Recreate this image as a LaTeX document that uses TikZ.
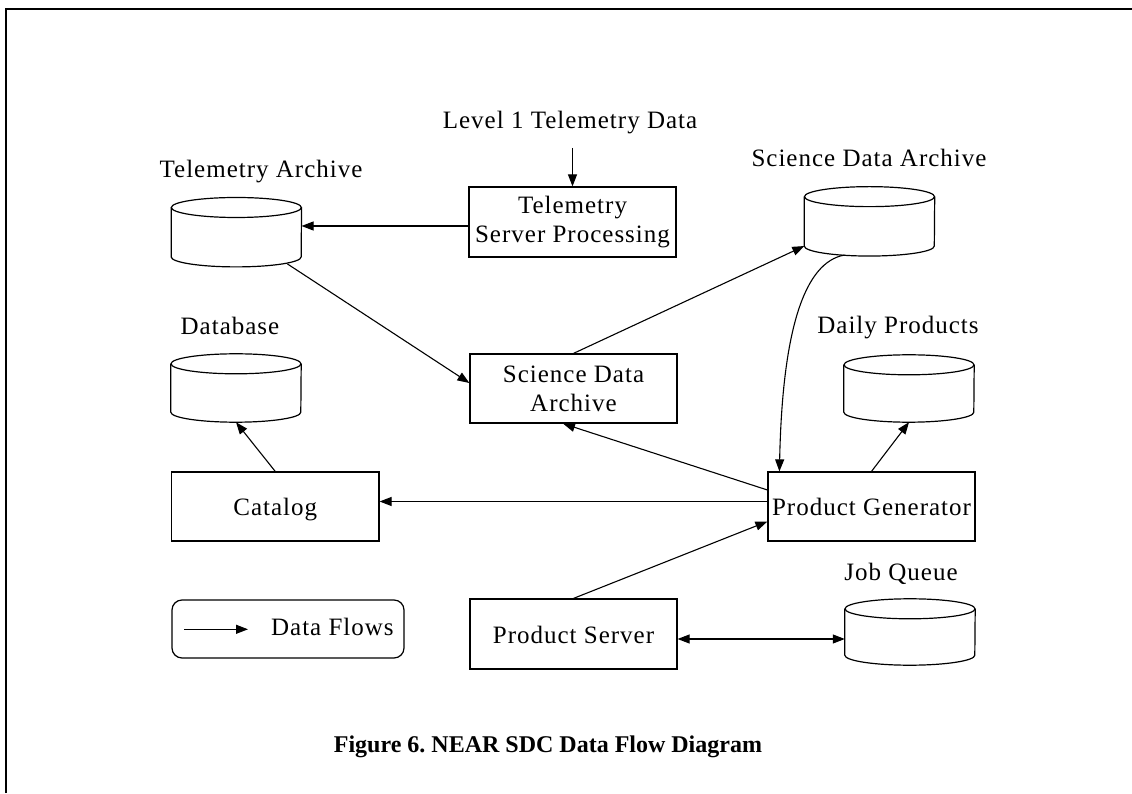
\documentclass[tikz,border=0pt]{standalone}
\usepackage{fontspec}
\setmainfont{Liberation Serif}
\newfontfamily\lblfont{Liberation Serif}[LetterSpace=4]
\usetikzlibrary{arrows.meta}
\frenchspacing

% outline of a storage drum drawn inside the bounding box of a named node
\newcommand\drumoutline[1]{%
  \draw[drum] ([yshift=-10pt]#1.north west) -- ([yshift=10pt]#1.south west)
    arc[start angle=180, end angle=360, x radius=65pt, y radius=10pt]
    -- ([yshift=-10pt]#1.north east);
  \draw[drum] ([yshift=-10pt]#1.north) ellipse [x radius=65pt, y radius=10pt];
}

\tikzset{
  tip/.tip={Triangle[length=12pt,width=9pt]},
  flow/.style={line width=1.1pt, -tip},
  twoway/.style={line width=1.1pt, tip-tip},
  procbox/.style={draw, line width=1.2pt, minimum width=207pt, minimum height=69pt,
    inner sep=0pt, align=center, font=\lblfont\fontsize{25}{30}\selectfont},
  oneline/.style={text height=18pt, text depth=0pt},
  drumbox/.style={minimum width=130pt, inner sep=0pt},
  drum/.style={line width=1.2pt},
  lbl/.style={anchor=base, inner sep=0pt, font=\lblfont\fontsize{25}{30}\selectfont},
}

\begin{document}
\begin{tikzpicture}[x=1pt,y=1pt]
  \fill[white] (0,0) rectangle (1132,793);
  \useasboundingbox (0,0) rectangle (1132,793);

  % page frame
  \draw[line width=1.6pt] (6,0) -- (6,784) -- (1132,784);

  % captions of the stores and the incoming data
  \node[lbl] (lvl)   at (570,664) {Level 1 Telemetry Data};
  \node[lbl] (talbl) at (261,615) {Telemetry Archive};
  \node[lbl] (sdlbl) at (869,626) {Science Data Archive};
  \node[lbl] (dblbl) at (230,458) {Database};
  \node[lbl] (dplbl) at (898,459) {Daily Products};
  \node[lbl] (jqlbl) at (901,213) {Job Queue};

  % processes
  \node[procbox, minimum height=70pt,
        font=\lblfont\fontsize{25}{31.5}\selectfont] (tsp) at (572.5,571)
        {\raisebox{-3pt}{Telemetry}\\Server Processing};
  \node[procbox, font=\lblfont\fontsize{25}{29}\selectfont] (sdb) at (573.5,404.5)
        {Science Data\\Archive};
  \node[procbox, oneline, minimum width=207.5pt] (cat) at (275.25,286.5) {Catalog};
  \node[procbox, oneline] (pg)  at (871.5,286.5) {Product Generator};
  \node[procbox, oneline, minimum height=70pt] (ps) at (573.5,159) {Product Server};

  % data stores
  \node[drumbox, minimum height=69pt] (ta)  at (236.35,560.8) {};
  \node[drumbox, minimum height=68pt] (db)  at (236,405) {};
  \node[drumbox, minimum height=69pt] (sdc) at (869.5,571.65) {};
  \node[drumbox, minimum height=67pt] (dp)  at (909,404.5) {};
  \node[drumbox, minimum height=66pt] (jq)  at (910,161) {};
  \drumoutline{ta}
  \drumoutline{db}
  \drumoutline{sdc}
  \drumoutline{dp}
  \drumoutline{jq}

  % data flows
  \draw[flow] ([yshift=-19pt]lvl.base -| tsp.north) -- (tsp.north);
  \draw[flow] ([yshift=-4pt]tsp.west) -- ([yshift=-4pt]tsp.west -| ta.east);
  \draw[flow] ([xshift=51pt,yshift=3pt]ta.south) -- ([yshift=5.5pt]sdb.west);
  \draw[flow] (sdb.north) -- ([yshift=10pt]sdc.south west);
  \draw[flow] ([xshift=-25pt,yshift=1pt]sdc.south)
    .. controls +(-40,-7) and +(3,142) .. ([xshift=12pt]pg.north west);
  \draw[flow] (pg.north) -- (dp.south);
  \draw[flow] (cat.north) -- (db.south);
  \draw[flow] ([yshift=16.5pt]pg.west) -- ([xshift=-10.5pt]sdb.south);
  \draw[flow] ([yshift=5pt]pg.west) -- ([yshift=5pt]pg.west -| cat.east);
  \draw[flow] (ps.north) -- ([yshift=-15pt]pg.west);
  \draw[twoway] ([yshift=-5pt]ps.east) -- ([yshift=-5pt]ps.east -| jq.west);

  % legend
  \node[draw, line width=1.2pt, rounded corners=10pt, minimum width=232pt,
        minimum height=58pt] (legend) at (288,164) {};
  \coordinate (legA) at ([xshift=-104pt,yshift=-0.3pt]legend.center);
  \coordinate (legB) at ([xshift=-40pt,yshift=-0.3pt]legend.center);
  \draw[flow] (legA) -- (legB);
  \node[lbl] (legtxt) at (332.4,158) {Data Flows};

  % figure caption
  \node[anchor=base, inner sep=0pt, font=\bfseries\fontsize{24}{28}\selectfont]
    (caption) at (548,41) {Figure 6. NEAR SDC Data Flow Diagram};
\end{tikzpicture}
\end{document}
